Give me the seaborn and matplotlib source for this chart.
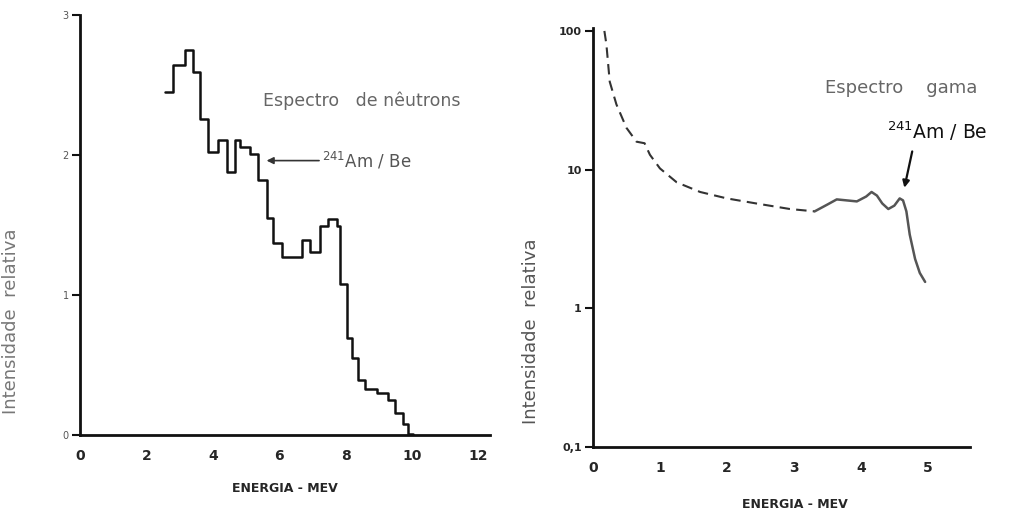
import matplotlib
matplotlib.use("Agg")
import matplotlib.pyplot as plt
import seaborn as sns
import numpy as np
import pandas as pd

# ---- Data: neutron spectrum (histogram, left panel) ----
neutron_edges = [2.56, 2.81, 3.16, 3.41, 3.61, 3.86, 4.17, 4.42, 4.67, 4.82,
                 5.12, 5.37, 5.62, 5.82, 6.08, 6.68, 6.93, 7.23, 7.48, 7.73,
                 7.83, 8.03, 8.18, 8.38, 8.58, 8.94, 9.29, 9.49, 9.74, 9.89, 10.04]
neutron_values = [2.45, 2.64, 2.75, 2.59, 2.26, 2.02, 2.11, 1.88, 2.11, 2.06,
                  2.01, 1.82, 1.55, 1.37, 1.27, 1.39, 1.31, 1.49, 1.54, 1.49,
                  1.08, 0.69, 0.55, 0.39, 0.33, 0.30, 0.25, 0.16, 0.08, 0.01]

# ---- Data: gamma spectrum (right panel, log scale) ----
gamma_x_dashed = [0.17, 0.20, 0.25, 0.35, 0.50, 0.65, 0.77, 0.85, 1.00, 1.25,
                  1.60, 2.00, 2.44, 2.94, 3.31]
gamma_y_dashed = [100, 80, 43, 29.5, 20, 15.9, 15.5, 12.8, 10.2, 8.1,
                  6.9, 6.2, 5.7, 5.2, 5.0]
gamma_x_solid = [3.31, 3.50, 3.64, 3.94, 4.08, 4.16, 4.24, 4.32, 4.41, 4.50,
                 4.58, 4.63, 4.68, 4.73, 4.81, 4.88, 4.96]
gamma_y_solid = [5.0, 5.6, 6.1, 5.9, 6.4, 6.9, 6.5, 5.7, 5.2, 5.5,
                 6.2, 6.0, 5.0, 3.4, 2.27, 1.8, 1.55]

left_xticks = [0, 2, 4, 6, 8, 10, 12]
left_yticks = [0, 1, 2, 3]
right_xticks = [0, 1, 2, 3, 4, 5]
right_yticks = [0.1, 1, 10, 100]
right_ytick_labels = ["0,1", "1", "10", "100"]

sns.set_style("white")
plt.rcParams['font.family'] = ['DejaVu Sans']

fig = plt.figure(figsize=(10.14, 5.18), dpi=100)
ax1 = fig.add_axes([80/1014, 1-435/518, 410/1014, 420/518])
ax2 = fig.add_axes([593/1014, 1-447/518, 377/1014, 419/518])

# ---- Left panel ----
df_n = pd.DataFrame({"E": neutron_edges, "I": neutron_values + [0.0]})
sns.lineplot(data=df_n, x="E", y="I", ax=ax1, drawstyle="steps-post",
             color="#111111", lw=1.8, estimator=None, sort=False)
ax1.set_xlim(0, 12.35)
ax1.set_ylim(0, 3)
ax1.set_xticks(left_xticks)
ax1.set_xticklabels([str(t) for t in left_xticks], fontsize=10, fontweight="bold")
ax1.set_yticks(left_yticks)
ax1.set_yticklabels([str(t) for t in left_yticks], fontsize=7, color="#555555")
ax1.tick_params(axis="y", left=True, direction="out", length=6, width=1.5, pad=2,
                color="#111111")
ax1.tick_params(axis="x", direction="out", length=0, pad=10)
for s in ["top", "right"]:
    ax1.spines[s].set_visible(False)
for s in ["left", "bottom"]:
    ax1.spines[s].set_color("#111111")
    ax1.spines[s].set_linewidth(2)
ax1.set_xlabel("ENERGIA - MEV", fontsize=9, fontweight="bold")
ax1.xaxis.set_label_coords(0.5, -0.112)
ax1.set_ylabel("Intensidade  relativa", fontsize=13, color="#777777")
ax1.yaxis.set_label_coords(-0.146, 0.27)
ax1.text(5.51, 2.39, "Espectro   de nêutrons", fontsize=12.5, color="#666666",
         va="center", ha="left", clip_on=False)
ax1.annotate(r"$^{241}$Am / Be", xy=(5.62, 1.96), xytext=(7.3, 1.96),
             fontsize=12, color="#555555", va="center", ha="left",
             arrowprops=dict(arrowstyle="-|>", color="#333333", lw=1.2,
                             shrinkA=0, shrinkB=0, mutation_scale=10))

# ---- Right panel ----
df_d = pd.DataFrame({"E": gamma_x_dashed, "I": gamma_y_dashed})
df_s = pd.DataFrame({"E": gamma_x_solid, "I": gamma_y_solid})
sns.lineplot(data=df_d, x="E", y="I", ax=ax2, color="#333333", lw=1.5,
             estimator=None, sort=False, linestyle=(0, (5, 3)))
sns.lineplot(data=df_s, x="E", y="I", ax=ax2, color="#555555", lw=1.8,
             estimator=None, sort=False)
ax2.set_yscale("log")
ax2.set_xlim(0, 5.63)
ax2.set_ylim(0.1, 105)
ax2.set_xticks(right_xticks)
ax2.set_xticklabels([str(t) for t in right_xticks], fontsize=10, fontweight="bold")
ax2.set_yticks(right_yticks)
ax2.set_yticklabels(right_ytick_labels, fontsize=8, fontweight="bold")
ax2.yaxis.set_minor_locator(matplotlib.ticker.NullLocator())
ax2.tick_params(axis="y", left=True, direction="out", length=6, width=1.5, pad=2,
                color="#111111")
ax2.tick_params(axis="x", direction="out", length=0, pad=10)
for s in ["top", "right"]:
    ax2.spines[s].set_visible(False)
for s in ["left", "bottom"]:
    ax2.spines[s].set_color("#111111")
    ax2.spines[s].set_linewidth(2)
ax2.set_xlabel("ENERGIA - MEV", fontsize=9, fontweight="bold")
ax2.xaxis.set_label_coords(0.536, -0.122)
ax2.set_ylabel("Intensidade  relativa", fontsize=13, color="#555555")
ax2.yaxis.set_label_coords(-0.14, 0.277)
ax2.text(3.46, 38.5, "Espectro    gama", fontsize=13, color="#666666",
         va="center", ha="left", clip_on=False)
ax2.annotate(r"$^{241}$Am / Be", xy=(4.65, 7.4), xytext=(4.39, 19.0),
             fontsize=13.5, color="#111111", va="center", ha="left",
             arrowprops=dict(arrowstyle="-|>", color="#111111", lw=1.6,
                             shrinkA=4, shrinkB=0, mutation_scale=10,
                             relpos=(0.27, 0.0)))

fig.savefig("out.png", dpi=100)
